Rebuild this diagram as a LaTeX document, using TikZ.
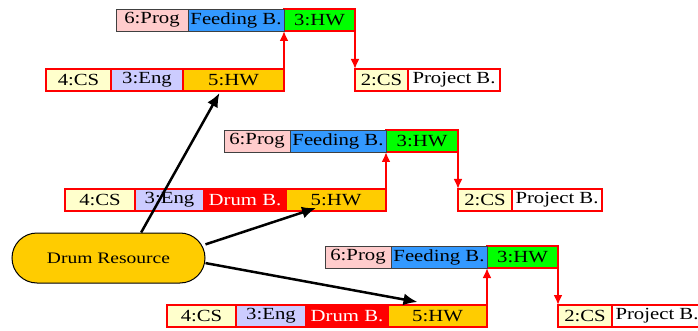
\documentclass[tikz,border=0pt]{standalone}
\usepackage{fontspec}
\setmainfont[FakeStretch=1.22]{Liberation Serif}
\usetikzlibrary{shapes,arrows,arrows.meta,positioning}

\definecolor{csyellow}{HTML}{FFFFCC}
\definecolor{englav}{HTML}{CCCCFF}
\definecolor{hwgold}{HTML}{FFCC00}
\definecolor{hwgreen}{HTML}{00FF00}
\definecolor{progpink}{HTML}{FFCCCC}
\definecolor{feedblue}{HTML}{3399FF}

\tikzset{
  task/.style={draw=red, line width=1.8pt, minimum height=22pt, inner sep=0pt,
    outer sep=0pt, font=\fontsize{17}{19}\selectfont},
  feed/.style={task, draw=black!75, line width=0.8pt},
  link/.style={-{Latex[length=10pt,width=9pt]}, red, line width=2pt},
  load/.style={-{Latex[length=14pt,width=12pt]}, line width=2.5pt}
}

\begin{document}
\begin{tikzpicture}[auto, >=latex, x=1pt, y=-1pt]
  \useasboundingbox (0,0) rectangle (698,331);

  \node (cs1) [task, fill=csyellow, minimum width=65pt, anchor=north west] at (46,69) {4:CS};
  \node (eng1) [task, fill=englav, minimum width=72pt, right=0pt of cs1] {3:Eng};
  \node (hw1) [task, fill=hwgold, minimum width=101pt, right=0pt of eng1] {5:HW};
  \node (top1) [task, fill=hwgreen, minimum width=71pt, above right=38pt and 0pt of hw1] {3:HW};
  \node (fb1) [feed, fill=feedblue, minimum width=96pt, left=0pt of top1] {Feeding B.};
  \node (prog1) [feed, fill=progpink, minimum width=72pt, left=0pt of fb1] {6:Prog};
  \node (end1) [task, fill=csyellow, minimum width=53pt, below right=38pt and 0pt of top1] {2:CS};
  \node (proj1) [task, fill=white, minimum width=92pt, right=0pt of end1] {Project B.};

  \node (cs2) [task, fill=csyellow, minimum width=70pt, anchor=north west] at (65,189) {4:CS};
  \node (eng2) [task, fill=englav, minimum width=69pt, right=0pt of cs2] {3:Eng};
  \node (db2) [task, fill=red, text=white, minimum width=82pt, right=0pt of eng2] {Drum B.};
  \node (hw2) [task, fill=hwgold, minimum width=100pt, right=0pt of db2] {5:HW};
  \node (top2) [task, fill=hwgreen, minimum width=72pt, above right=37pt and 0pt of hw2] {3:HW};
  \node (fb2) [feed, fill=feedblue, minimum width=96pt, left=0pt of top2] {Feeding B.};
  \node (prog2) [feed, fill=progpink, minimum width=66pt, left=0pt of fb2] {6:Prog};
  \node (end2) [task, fill=csyellow, minimum width=54pt, below right=37pt and 0pt of top2] {2:CS};
  \node (proj2) [task, fill=white, minimum width=90pt, right=0pt of end2] {Project B.};

  \node (cs3) [task, fill=csyellow, minimum width=69pt, anchor=north west] at (167,305) {4:CS};
  \node (eng3) [task, fill=englav, minimum width=70pt, right=0pt of cs3] {3:Eng};
  \node (db3) [task, fill=red, text=white, minimum width=82pt, right=0pt of eng3] {Drum B.};
  \node (hw3) [task, fill=hwgold, minimum width=99pt, right=0pt of db3] {5:HW};
  \node (top3) [task, fill=hwgreen, minimum width=71pt, above right=37pt and 0pt of hw3] {3:HW};
  \node (fb3) [feed, fill=feedblue, minimum width=96pt, left=0pt of top3] {Feeding B.};
  \node (prog3) [feed, fill=progpink, minimum width=66pt, left=0pt of fb3] {6:Prog};
  \node (end3) [task, fill=csyellow, minimum width=54pt, below right=37pt and 0pt of top3] {2:CS};
  \node (proj3) [task, fill=white, minimum width=90pt, right=0pt of end3] {Project B.};

  \node (drum) [draw, fill=hwgold, line width=1pt, rounded corners=25pt, minimum width=193pt,
    minimum height=50pt, font=\fontsize{16}{18}\selectfont] at (108.5,258) {Drum Resource};

  \draw[link] (hw1.north east) -- (top1.south west);
  \draw[link] (top1.south east) -- (end1.north west);
  \draw[link] (hw2.north east) -- (top2.south west);
  \draw[link] (top2.south east) -- (end2.north west);
  \draw[link] (hw3.north east) -- (top3.south west);
  \draw[link] (top3.south east) -- (end3.north west);

  \draw[load] (drum.38) -- ([xshift=-14pt,yshift=-2pt]hw1.south);
  \draw[load] (drum.8) -- ([xshift=-20pt,yshift=3pt]hw2.south);
  \draw[load] (drum.-3) -- ([xshift=-20pt,yshift=3pt]hw3.north);
\end{tikzpicture}
\end{document}
